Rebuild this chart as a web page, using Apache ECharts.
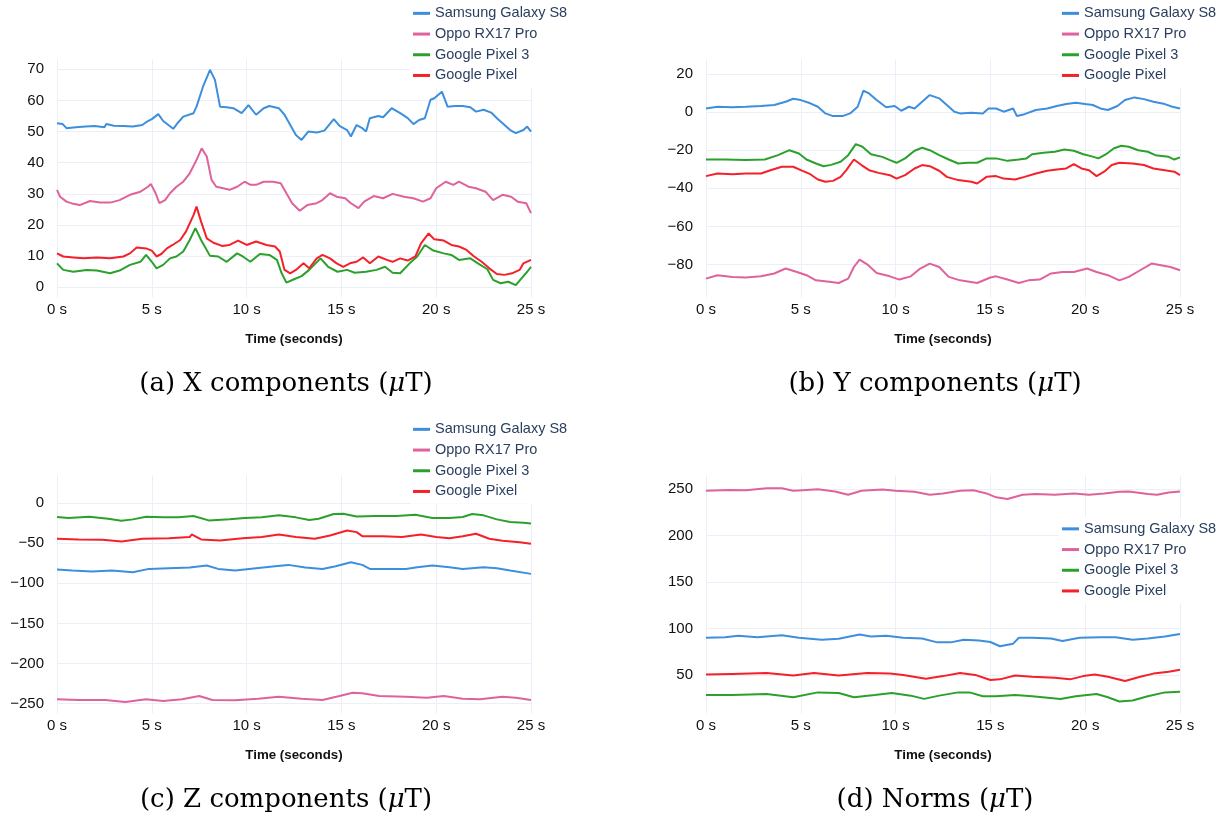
<!DOCTYPE html>
<html><head><meta charset="utf-8">
<script src="https://cdn.jsdelivr.net/npm/echarts@6/dist/echarts.min.js"></script>
<style>html,body{margin:0;padding:0;background:#fff}#c{width:1225px;height:819px}</style>
</head><body><div id="c"></div>
<script>
// ---------- DATA: [time (s), value (µT)] ----------
const seriesNames = ['Samsung Galaxy S8', 'Oppo RX17 Pro', 'Google Pixel 3', 'Google Pixel'];
const timeTicks = [0, 5, 10, 15, 20, 25];

// (a) X components
const xTicks = [0, 10, 20, 30, 40, 50, 60, 70];
const xSamsung = [[0,52.7],[0.3,52.4],[0.5,51.1],[1,51.4],[1.5,51.6],[2,51.8],[2.5,51.4],[2.6,52.4],[3,51.9],[3.5,51.8],[4,51.6],[4.5,52.1],[4.7,53],[5,54],[5.34,55.6],[5.6,53.4],[6.13,50.9],[6.4,53],[6.66,54.8],[7.2,55.9],[7.36,58],[7.7,64.4],[8.07,69.8],[8.33,66.6],[8.6,58],[8.95,57.8],[9.3,57.5],[9.74,55.9],[10.1,58.5],[10.5,55.4],[10.9,57.5],[11.2,58.2],[11.7,57.5],[12,55.4],[12.4,51.1],[12.6,48.9],[12.9,47.3],[13.25,50],[13.7,49.7],[14.1,50.3],[14.6,54],[14.9,51.8],[15.3,50.5],[15.5,48.4],[15.8,52.1],[16.1,51.1],[16.3,50],[16.5,54.3],[16.95,55],[17.2,54.6],[17.65,57.5],[18.1,55.9],[18.5,54.3],[18.8,52.4],[19.1,53.7],[19.4,54.3],[19.7,60.2],[19.9,60.7],[20.3,62.8],[20.6,58],[21,58.2],[21.4,58.2],[21.8,57.8],[22.1,56.4],[22.5,57],[22.9,56.1],[23.2,54.3],[23.5,52.7],[23.9,50.5],[24.2,49.5],[24.6,50.5],[24.8,51.6],[25,50]];
const xOppo = [[0,31.3],[0.16,29.1],[0.5,27.5],[0.86,26.8],[1.2,26.4],[1.74,27.7],[2.27,27.2],[2.8,27.2],[3.3,28],[3.85,29.7],[4.4,30.7],[4.8,32.3],[4.95,33.2],[5.2,30.2],[5.4,27],[5.7,28],[5.96,30.2],[6.3,32.3],[6.66,33.9],[7,36.6],[7.36,40.9],[7.63,44.6],[7.9,42],[8.15,34.5],[8.4,32.3],[8.77,31.8],[9.1,31.3],[9.5,32.3],[9.9,33.9],[10.2,32.9],[10.5,32.9],[10.9,33.9],[11.4,33.9],[11.8,33.4],[12.1,30.2],[12.4,27],[12.8,24.6],[13.2,26.4],[13.7,27],[14,28],[14.4,30.2],[14.75,29.1],[15.2,28.6],[15.5,27],[15.9,25.4],[16.2,27.5],[16.7,29.3],[17.2,28.6],[17.7,30],[18.3,29.1],[18.8,28.6],[19.3,27.5],[19.7,28.6],[20,31.8],[20.5,33.9],[20.9,32.9],[21.2,33.9],[21.7,32.3],[22.1,31.8],[22.6,30.7],[23,28],[23.5,29.7],[23.95,29.1],[24.3,27.5],[24.75,27],[25,23.8]];
const xPixel3 = [[0,7.7],[0.33,5.6],[0.86,5],[1.56,5.6],[2.1,5.4],[2.8,4.5],[3.3,5.4],[3.85,7.2],[4.4,8.2],[4.7,10.4],[5,8.2],[5.25,6.1],[5.6,7.2],[5.96,9.3],[6.3,9.9],[6.66,11.5],[7,15.2],[7.3,19],[7.6,15.2],[8.07,10.1],[8.5,9.9],[8.95,8.2],[9.5,10.9],[9.8,9.9],[10.2,8.2],[10.7,10.7],[11.2,10.4],[11.6,8.8],[11.85,4.5],[12.1,1.5],[12.5,2.6],[12.9,3.6],[13.3,5.6],[13.9,9.3],[14.3,6.6],[14.8,5],[15.3,5.6],[15.7,4.7],[16.3,5],[16.85,5.6],[17.3,6.6],[17.7,4.7],[18.1,4.5],[18.6,7.7],[19,9.9],[19.4,13.6],[19.85,11.8],[20.4,10.9],[20.8,10.4],[21.2,8.8],[21.8,9.3],[22.2,7.7],[22.7,5.8],[23,2.4],[23.4,1.3],[23.8,1.8],[24.2,0.7],[24.5,2.9],[24.8,5],[25,6.6]];
const xPixel = [[0,10.9],[0.33,9.9],[0.86,9.6],[1.4,9.3],[2.1,9.6],[2.8,9.3],[3.5,9.9],[3.85,10.9],[4.2,12.8],[4.7,12.5],[5,11.8],[5.25,9.9],[5.5,10.7],[5.8,12.5],[6.1,13.6],[6.5,15.2],[6.8,17.9],[7.2,23.2],[7.36,25.9],[7.6,21.1],[7.9,15.7],[8.25,14.3],[8.7,13.3],[9.1,13.6],[9.55,15],[10,13.6],[10.5,14.7],[11.05,13.6],[11.5,13.1],[11.75,11.5],[12,5.6],[12.3,4.5],[12.6,5.6],[13,7.7],[13.3,6.1],[13.7,9.3],[14,10.4],[14.4,9.3],[14.75,7.7],[15.1,6.6],[15.45,7.7],[15.8,8.2],[16.15,9.6],[16.5,7.7],[16.95,9.9],[17.4,8.8],[17.7,8.2],[18.1,9.3],[18.5,8.6],[18.9,9.9],[19.2,14.1],[19.6,17.3],[19.9,15.4],[20.4,15],[20.8,13.6],[21.2,13.1],[21.6,12],[22,9.9],[22.4,8.2],[22.8,6.1],[23.2,4.3],[23.6,4],[24,4.5],[24.4,5.6],[24.6,7.7],[25,8.8]];

// (b) Y components
const yTicks = [20, 0, -20, -40, -60, -80];
const ySamsung = [[0,1.9],[0.6,2.8],[1.36,2.5],[2.1,2.8],[2.9,3.2],[3.6,3.7],[4.2,5.4],[4.6,7],[5,6.3],[5.5,4.6],[5.9,2.8],[6.3,-0.7],[6.7,-2.1],[7.2,-2.1],[7.6,-0.7],[8,2.8],[8.3,11.2],[8.6,9.8],[9,6.3],[9.5,2.5],[9.95,3.2],[10.3,0.7],[10.7,2.8],[11,1.9],[11.4,5.4],[11.8,8.9],[12.3,7.2],[12.7,3.7],[13.1,0.2],[13.4,-0.7],[14,-0.4],[14.6,-0.7],[14.9,1.9],[15.3,1.9],[15.7,0.2],[16.2,1.9],[16.4,-2.1],[16.8,-1.1],[17.4,1.1],[18,1.9],[18.5,3.2],[19,4.2],[19.5,4.9],[20,4.2],[20.4,3.7],[20.8,1.9],[21.2,1.1],[21.7,3.2],[22.1,6.3],[22.6,7.7],[23.1,6.8],[23.6,5.4],[24.2,4.2],[24.6,2.8],[25,1.9]];
const yOppo = [[0,-87.4],[0.6,-85.6],[1.4,-86.5],[2.1,-86.8],[2.9,-86.2],[3.6,-84.7],[4.2,-82.1],[4.8,-83.9],[5.3,-85.6],[5.8,-88.3],[6.5,-89.1],[7,-89.7],[7.5,-87.4],[7.8,-81.3],[8.1,-77.4],[8.5,-79.9],[9,-84.4],[9.7,-86.2],[10.2,-87.9],[10.8,-86.2],[11.3,-82.1],[11.8,-79.5],[12.3,-81.3],[12.8,-86.5],[13.4,-88.3],[14.3,-89.7],[15,-86.8],[15.3,-86.2],[15.9,-87.9],[16.5,-89.7],[17,-88.3],[17.6,-87.9],[18.2,-84.7],[18.8,-83.9],[19.4,-83.9],[20.1,-82.1],[20.6,-83.9],[21.2,-85.6],[21.8,-88.3],[22.3,-86.5],[22.9,-83],[23.5,-79.5],[24,-80.4],[24.5,-81.3],[25,-83]];
const yPixel3 = [[0,-24.9],[1,-24.9],[2.1,-25.2],[3.1,-24.9],[3.8,-22.6],[4.4,-20],[4.9,-21.7],[5.3,-24.9],[5.8,-27],[6.2,-28.4],[6.6,-27.7],[7.1,-26.1],[7.5,-22.6],[7.9,-16.8],[8.25,-18.2],[8.7,-22.1],[9.3,-23.5],[9.7,-25.2],[10.05,-26.6],[10.5,-24.3],[11,-20.3],[11.4,-18.7],[11.8,-20],[12.3,-22.6],[12.8,-24.9],[13.3,-27],[13.8,-26.6],[14.3,-26.6],[14.8,-24.3],[15.3,-24.3],[15.9,-25.6],[16.5,-24.9],[16.9,-24.3],[17.2,-22.1],[17.8,-21.4],[18.4,-20.8],[18.9,-19.6],[19.4,-20.3],[19.9,-22.1],[20.3,-23.1],[20.7,-24.3],[21.1,-22.1],[21.5,-19.1],[21.9,-17.7],[22.3,-18.2],[22.8,-20],[23.3,-20.8],[23.7,-22.6],[24.4,-23.5],[24.7,-24.9],[25,-23.8]];
const yPixel = [[0,-33.6],[0.6,-32.2],[1.4,-32.6],[2.1,-32.2],[2.9,-32.2],[3.4,-30.5],[4,-28.7],[4.6,-28.7],[5,-30.5],[5.5,-32.6],[5.9,-35.4],[6.3,-36.6],[6.7,-36.1],[7.1,-34],[7.4,-30.5],[7.8,-24.9],[8.2,-27.8],[8.6,-30.5],[9.1,-31.9],[9.7,-33.1],[10.05,-34.9],[10.5,-33.1],[11,-29.6],[11.4,-27.8],[11.8,-28.4],[12.3,-30.8],[12.7,-34],[13.3,-35.7],[14,-36.6],[14.3,-37.5],[14.8,-34],[15.3,-33.6],[15.7,-34.9],[16.3,-35.4],[16.8,-34],[17.4,-32.2],[18,-30.8],[18.5,-30.1],[19,-29.6],[19.4,-27.3],[19.8,-29.6],[20.2,-30.5],[20.6,-33.6],[21,-31.3],[21.4,-27.8],[21.8,-26.6],[22.5,-27],[23.1,-27.8],[23.6,-29.6],[24.2,-30.5],[24.7,-31.3],[25,-33.1]];

// (c) Z components
const zTicks = [0, -50, -100, -150, -200, -250];
const zSamsung = [[0,-82.9],[0.8,-84.2],[1.85,-85.4],[2.9,-84.2],[4,-86.3],[4.85,-82.1],[5.9,-81.3],[7,-80.4],[7.9,-77.9],[8.5,-82.1],[9.4,-84.2],[10.5,-81.3],[11.5,-78.8],[12.2,-77.1],[13.1,-80.4],[14,-82.1],[14.7,-78.8],[15.5,-73.8],[16.1,-77.1],[16.5,-82.1],[17.4,-82.1],[18.4,-82.1],[19,-80],[19.8,-77.9],[20.7,-80],[21.4,-82.1],[22.5,-80],[23.2,-81.3],[23.9,-84.2],[25,-88.3]];
const zOppo = [[0,-244.6],[1.15,-245.4],[2.55,-245.4],[3.6,-247.9],[4.7,-244.6],[5.6,-246.7],[6.6,-244.6],[7.5,-240.4],[8.2,-245.4],[9.4,-245.8],[10.6,-243.8],[11.7,-241.3],[12.9,-243.8],[14,-245.4],[14.9,-240.4],[15.6,-236.3],[16.1,-237.1],[17,-240.4],[18.4,-241.3],[19.5,-242.5],[20.4,-240.4],[21.4,-243.8],[22.3,-244.6],[23.5,-241.3],[24.2,-242.5],[25,-245.4]];
const zPixel3 = [[0,-17.5],[0.6,-18.8],[1.7,-17.1],[2.7,-19.6],[3.4,-22.1],[4,-20.4],[4.7,-17.1],[5.6,-17.9],[6.4,-17.9],[7.2,-16.3],[8,-21.7],[9.1,-20.4],[9.9,-18.8],[10.8,-17.9],[11.7,-15.4],[12.6,-17.9],[13.3,-21.3],[13.8,-19.6],[14.6,-13.8],[15.1,-13.3],[15.8,-16.7],[16.8,-16.3],[17.9,-16.3],[18.9,-14.6],[19.8,-18.8],[20.7,-18.8],[21.4,-17.5],[21.9,-13.8],[22.5,-15.4],[23.2,-20.4],[23.9,-23.8],[24.6,-24.6],[25,-25.4]];
const zPixel = [[0,-44.6],[1.15,-45.4],[2.4,-45.8],[3.4,-47.9],[4.5,-44.6],[5.9,-43.8],[7,-42.5],[7.1,-39.2],[7.6,-45.4],[8.6,-46.7],[9.8,-43.8],[10.8,-42.5],[11.7,-39.2],[12.6,-42.5],[13.6,-44.6],[14.4,-40.4],[15.3,-34.2],[15.8,-36.3],[16.1,-41.3],[17.2,-41.3],[18.2,-42.5],[19.2,-39.2],[20,-42.5],[20.7,-43.8],[21.4,-41.3],[22.1,-38.3],[22.8,-44.6],[23.5,-47.1],[24.4,-48.8],[25,-50.8]];

// (d) Norms
const nTicks = [50, 100, 150, 200, 250];
const nSamsung = [[0,90.2],[1,90.9],[1.7,92.3],[2.7,90.9],[4,93],[4.9,90.2],[6.1,88.1],[7,89.2],[8.1,93.7],[8.7,91.6],[9.5,92.3],[10.4,90.2],[11.4,89.5],[12.2,85.3],[12.9,85.3],[13.6,88.1],[14.4,87.4],[15,85.7],[15.5,81.1],[16.2,83.9],[16.5,90.2],[17.2,90.2],[18.2,89.5],[18.8,86.7],[19.7,90.2],[20.8,90.9],[21.6,90.9],[22.5,88.1],[23.3,89.5],[24.2,91.6],[25,94.4]];
const nOppo = [[0,248.3],[1.2,249.3],[2.1,249],[3.2,251],[4,251],[4.6,248.3],[5.1,249],[5.9,250],[6.8,247.6],[7.5,244],[8.2,248.3],[9.3,249.7],[10,248.3],[11,247.2],[11.8,244],[12.5,245.5],[13.4,248.3],[14.1,249],[14.8,245.5],[15.3,241.3],[15.9,239.5],[16.7,244],[17.4,244.8],[18.4,244],[19.4,245.5],[20.2,244],[21,245.5],[21.8,247.2],[22.3,247.6],[23.3,244.8],[23.8,244],[24.4,246.5],[25,247.6]];
const nPixel3 = [[0,28.7],[1.4,28.7],[3.2,29.7],[4.6,26.2],[5.9,31.5],[7,30.8],[7.8,26.2],[8.9,28.7],[9.8,30.8],[10.8,28],[11.5,24.5],[12.3,28],[13.3,31.5],[13.9,31.5],[14.6,27.3],[15.3,27.3],[16.3,28.7],[17.2,27.3],[18.7,24.5],[19.5,27.3],[20.6,29.7],[21.2,26.2],[21.8,21.7],[22.5,22.7],[23.3,27.3],[24.2,31.5],[25,32.2]];
const nPixel = [[0,50.7],[1.4,51.4],[3.2,52.4],[4.6,49.7],[5.7,52.4],[7,49.7],[8.5,52.4],[9.7,51.7],[10.4,50.3],[11.6,46.2],[12.5,49],[13.4,52.4],[14.2,50.3],[15,44.8],[15.5,45.5],[16.3,49.7],[17.2,48.3],[18.4,47.2],[19.2,45.5],[19.9,49],[20.5,50.7],[21.2,48.3],[22.1,43.7],[22.9,48.3],[23.6,51.7],[24.4,53.8],[25,55.9]];

// ---------- LAYOUT / STYLE ----------
const colors = ['#3d8fdd', '#e0629c', '#2ca02c', '#f5202a'];
const FONT = '"Liberation Sans", Arial, Helvetica, sans-serif';
const panels = [
  {series:[xSamsung,xOppo,xPixel3,xPixel], yMin:-3.2, yMax:73.2, ticks:xTicks, gx:57, gy:59.3, lx:410, ly:2, cap:'(a) X components ('},
  {series:[ySamsung,yOppo,yPixel3,yPixel], yMin:-97.2, yMax:27.7, ticks:yTicks, gx:706, gy:59.3, lx:1059, ly:2, cap:'(b) Y components ('},
  {series:[zSamsung,zOppo,zPixel3,zPixel], yMin:-262, yMax:34.5, ticks:zTicks, gx:57, gy:475.3, lx:410, ly:418, cap:'(c) Z components ('},
  {series:[nSamsung,nOppo,nPixel3,nPixel], yMin:9, yMax:265, ticks:nTicks, gx:706, gy:475.3, lx:1059, ly:517.5, cap:'(d) Norms ('}
];
const GW = 474, GH = 238;
const minus = v => (v < 0 ? '\u2212' + Math.abs(v) : String(v));

const option = {
  animation: false,
  backgroundColor: '#ffffff',
  textStyle: {fontFamily: FONT},
  grid: [], xAxis: [], yAxis: [], series: [], legend: [], graphic: []
};
panels.forEach((p, i) => {
  option.grid.push({left: p.gx, top: p.gy, width: GW, height: GH, containLabel: false});
  option.xAxis.push({
    type: 'value', gridIndex: i, min: timeTicks[0], max: timeTicks[timeTicks.length - 1], interval: 5,
    axisLine: {show: false}, axisTick: {show: false},
    splitLine: {show: true, lineStyle: {color: '#ebf0f8', width: 1}},
    axisLabel: {formatter: v => v + ' s', color: '#111', fontSize: 15, margin: 5, fontFamily: FONT}
  });
  option.yAxis.push({
    type: 'value', gridIndex: i, min: p.yMin, max: p.yMax,
    axisLine: {show: false},
    axisTick: {show: false, customValues: p.ticks},
    splitLine: {show: true, lineStyle: {color: '#ebf0f8', width: 1}},
    axisLabel: {customValues: p.ticks, formatter: minus, color: '#111', fontSize: 15, margin: 13, fontFamily: FONT}
  });
  p.series.forEach((d, k) => {
    option.series.push({
      type: 'line', name: seriesNames[k], xAxisIndex: i, yAxisIndex: i,
      data: d, showSymbol: false, symbol: 'none',
      lineStyle: {color: colors[k], width: 2}, itemStyle: {color: colors[k]}
    });
  });
  option.legend.push({
    orient: 'vertical', left: p.lx, top: p.ly, padding: [1, 6, 2, 3],
    itemGap: 0, itemWidth: 17, itemHeight: 3, icon: 'rect',
    backgroundColor: '#ffffff', z: 10,
    data: seriesNames,
    textStyle: {color: '#2a3f5f', fontSize: 14.5, lineHeight: 20.7, fontFamily: FONT}
  });
  const cx = p.gx + GW / 2;
  option.graphic.push({
    type: 'text', x: cx, y: p.gy + GH + 42, z: 20,
    style: {text: 'Time (seconds)', font: 'bold 13.3px ' + FONT, fill: '#111', textAlign: 'center', textVerticalAlign: 'middle'}
  });
  option.graphic.push({
    type: 'text', x: cx - 8, y: p.gy + GH + 87, z: 20,
    style: {
      text: p.cap + '{i|\u03bc}T)', fill: '#000', textAlign: 'center', textVerticalAlign: 'middle',
      font: '26px "DejaVu Serif", serif',
      rich: {i: {fontStyle: 'italic', fontSize: 26, fontFamily: '"DejaVu Serif", serif'}}
    }
  });
});

const chart = echarts.init(document.getElementById('c'), null, {renderer: 'canvas'});
chart.setOption(option);
</script>
</body></html>
